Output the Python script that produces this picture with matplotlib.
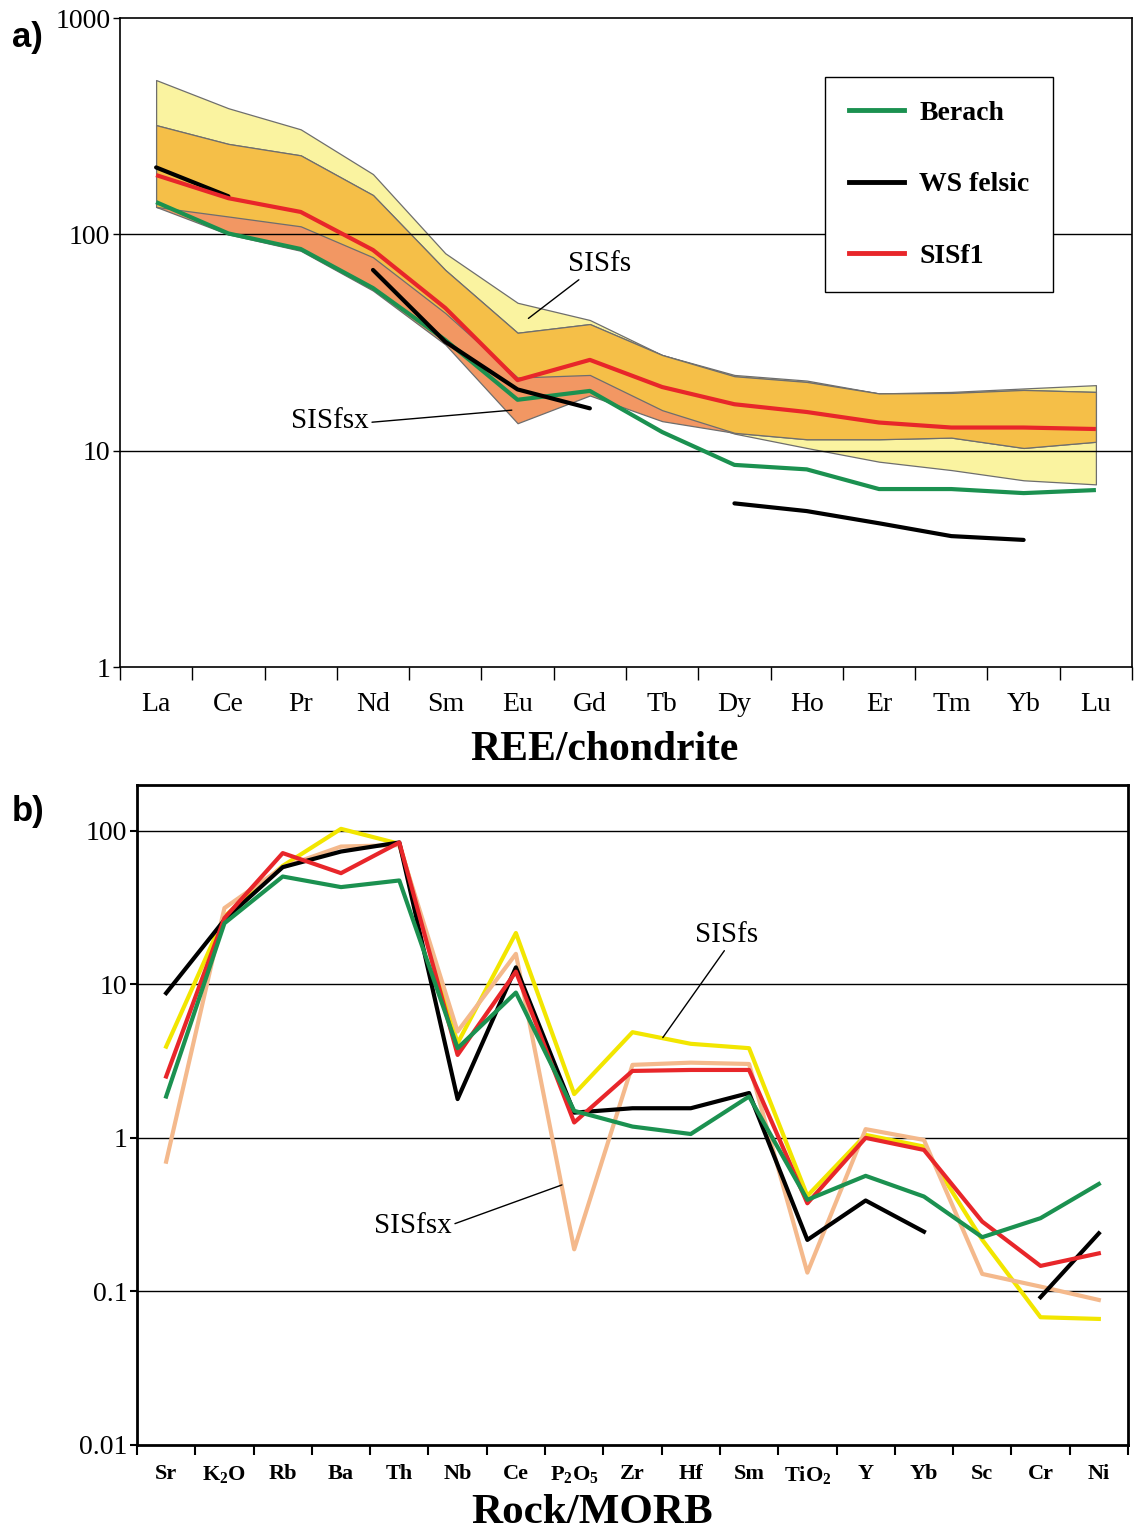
import numpy as np
import matplotlib
matplotlib.use("Agg")
import matplotlib.pyplot as plt
from matplotlib.lines import Line2D

plt.rcParams['font.family'] = ['Liberation Serif', 'DejaVu Serif']
plt.rcParams['mathtext.fontset'] = 'custom'
plt.rcParams['mathtext.rm'] = 'Liberation Serif:bold'
plt.rcParams['mathtext.bf'] = 'Liberation Serif:bold'
plt.rcParams['mathtext.it'] = 'Liberation Serif:bold'

# ---------------- (a) REE / chondrite ----------------
ree = ['La', 'Ce', 'Pr', 'Nd', 'Sm', 'Eu', 'Gd', 'Tb', 'Dy', 'Ho', 'Er', 'Tm', 'Yb', 'Lu']

ree_berach = [141, 101, 85.6, 56.5, 32.5, 17.2, 18.9, 12.2, 8.6, 8.2, 6.65, 6.65, 6.37, 6.58]
ree_ws_felsic = [204, 150, np.nan, 68.5, 31.9, 19.2, 15.7, np.nan, 5.71, 5.26, 4.62, 4.03, 3.87, np.nan]
ree_sisf1 = [188, 147, 127, 84.7, 45.7, 21.2, 26.3, 19.7, 16.4, 15.1, 13.5, 12.8, 12.8, 12.6]

# range envelopes
sisfs_top = [517, 383, 306, 190, 81.8, 48.3, 40.2, 27.7, 22.4, 21.1, 18.4, 18.7, 19.4, 20.1]
sisfs_bottom = [134, 121, 109, 78.4, 43.3, 21.8, 22.4, 15.4, 12.0, 10.3, 8.9, 8.14, 7.3, 6.99]
sisfsx_top = [320, 262, 232, 152, 68.5, 35.1, 38.5, 27.7, 22.1, 20.8, 18.4, 18.5, 19.1, 18.7]
sisfsx_bottom = [134, 100, 84, 55, 31, 13.4, 18.0, 13.7, 12.1, 11.3, 11.3, 11.5, 10.3, 11.0]

# ---------------- (b) Rock / MORB ----------------
morb = ['Sr', r'K$_2$O', 'Rb', 'Ba', 'Th', 'Nb', 'Ce', r'P$_2$O$_5$', 'Zr', 'Hf', 'Sm',
        r'TiO$_2$', 'Y', 'Yb', 'Sc', 'Cr', 'Ni']

morb_ws_felsic = [8.77, 26.3, 58, 73.3, 84, 1.79, 12.9, 1.46, 1.56, 1.56, 1.96,
                  0.2165, 0.391, 0.245, np.nan, 0.0917, 0.239]
morb_berach = [1.86, 25, 50.4, 43, 47.5, 3.84, 8.84, 1.50, 1.185, 1.06, 1.86,
               0.395, 0.566, 0.415, 0.2255, 0.300, 0.501]
morb_sisf1 = [2.51, 27, 71.6, 53, 84, 3.47, 12.1, 1.26, 2.73, 2.77, 2.77,
              0.375, 1.0, 0.835, 0.285, 0.1466, 0.177]
morb_sisfs = [3.93, 27.7, 59.1, 103, 82.3, 4.14, 21.6, 1.93, 4.88, 4.10, 3.84,
              0.419, 1.046, 0.878, 0.217, 0.0679, 0.0662]
morb_sisfsx = [0.70, 31.4, 58, 79, 80.7, 4.93, 15.8, 0.188, 2.99, 3.09, 3.03,
               0.1326, 1.14, 0.97, 0.130, 0.1075, 0.088]

GREEN = '#1b9150'
RED = '#e8262a'
BLACK = '#000000'
YELLOW = '#f2e600'
PEACH = '#f4b98c'

FILL_YELLOW = '#faf3a0'
FILL_ORANGE = '#f5bf48'
FILL_SALMON = '#f29763'
EDGE = '#6e6e6e'

fig = plt.figure(figsize=(11.35, 15.31), dpi=100)
ax1 = fig.add_axes([0.1057, 0.5643, 0.8917, 0.4239])
ax2 = fig.add_axes([0.1207, 0.0562, 0.8731, 0.4311])

# ---- panel a ----
x1 = np.arange(len(ree))
s_top = np.array(sisfs_top); s_bot = np.array(sisfs_bottom)
x_top = np.array(sisfsx_top); x_bot = np.array(sisfsx_bottom)
ov_top = np.minimum(s_top, x_top)
ov_bot = np.maximum(s_bot, x_bot)

ax1.fill_between(x1, s_bot, s_top, facecolor=FILL_YELLOW, edgecolor=EDGE, linewidth=0.9, zorder=1)
ax1.fill_between(x1, x_bot, x_top, facecolor=FILL_SALMON, edgecolor=EDGE, linewidth=0.9, zorder=1.1)
ax1.fill_between(x1, ov_bot, ov_top, facecolor=FILL_ORANGE, edgecolor=EDGE, linewidth=0.9, zorder=1.2)

for v in [10, 100]:
    ax1.axhline(v, color='black', linewidth=1.0, zorder=2)

ax1.plot(x1, ree_berach, color=GREEN, lw=3.0, zorder=3, solid_capstyle='butt')
ax1.plot(x1, ree_ws_felsic, color=BLACK, lw=3.0, zorder=3.1, solid_capstyle='round')
ax1.plot(x1, ree_sisf1, color=RED, lw=3.0, zorder=3.2, solid_capstyle='butt')

ax1.set_yscale('log')
ax1.set_ylim(1, 1000)
ax1.set_xlim(-0.5, len(ree) - 0.5)
ax1.set_yticks([1, 10, 100, 1000])
ax1.set_yticklabels(['1', '10', '100', '1000'])
ax1.yaxis.set_minor_locator(matplotlib.ticker.NullLocator())
ax1.tick_params(axis='y', which='major', direction='out', length=5, width=1, labelsize=20, pad=2)
ax1.set_xticks(np.arange(-0.5, len(ree)), labels=[''] * (len(ree) + 1))
ax1.set_xticks(x1, labels=ree, minor=True)
ax1.tick_params(axis='x', which='major', direction='out', length=9, width=1)
ax1.tick_params(axis='x', which='minor', length=0, labelsize=20, pad=18)
for sp in ax1.spines.values():
    sp.set_linewidth(1.2)
    sp.set_zorder(4)

ax1.annotate('SISfs', xy=(5.15, 40.9), xytext=(6.14, 73.0), ha='center', va='center',
             fontsize=21, zorder=5,
             arrowprops=dict(arrowstyle='-', color='black', lw=1.0, shrinkA=0, shrinkB=0,
                             relpos=(0.25, 0.05)))
ax1.annotate('SISfsx', xy=(4.92, 15.4), xytext=(2.41, 13.7), ha='center', va='center',
             fontsize=21, zorder=5,
             arrowprops=dict(arrowstyle='-', color='black', lw=1.0, shrinkA=0, shrinkB=0,
                             relpos=(1.0, 0.45)))

handles = [Line2D([], [], color=GREEN, lw=3.5),
           Line2D([], [], color=BLACK, lw=3.5),
           Line2D([], [], color=RED, lw=3.5)]
leg = ax1.legend(handles, ['Berach', 'WS felsic', 'SISf1'], loc='upper left',
                 bbox_to_anchor=((825 - 120) / 1012, (667 - 77) / 649), borderaxespad=0,
                 prop={'family': 'Liberation Serif', 'weight': 'bold', 'size': 20},
                 frameon=True, fancybox=False, framealpha=1, edgecolor='black',
                 handlelength=2.0, handletextpad=0.55, labelspacing=1.65, borderpad=0.85)
leg.get_frame().set_linewidth(1.0)
leg.set_zorder(6)

fig.text(604 / 1135, 1 - 750 / 1531, 'REE/chondrite', ha='center', va='center',
         fontsize=30, fontweight='bold')
fig.text(12 / 1135, 1 - 38 / 1531, 'a)', ha='left', va='center', fontsize=25,
         fontweight='bold', family='Liberation Sans')

# ---- panel b ----
x2 = np.arange(len(morb))
for v in [0.1, 1, 10, 100]:
    ax2.axhline(v, color='black', linewidth=1.0, zorder=1)

ax2.plot(x2, morb_sisfs, color=YELLOW, lw=3.0, zorder=2)
ax2.plot(x2, morb_sisfsx, color=PEACH, lw=3.0, zorder=2.1)
ax2.plot(x2, morb_ws_felsic, color=BLACK, lw=3.0, zorder=2.2)
ax2.plot(x2, morb_sisf1, color=RED, lw=3.0, zorder=2.3)
ax2.plot(x2, morb_berach, color=GREEN, lw=3.0, zorder=2.4)

ax2.set_yscale('log')
ax2.set_ylim(0.01, 199)
ax2.set_xlim(-0.5, len(morb) - 0.5)
ax2.set_yticks([0.01, 0.1, 1, 10, 100])
ax2.set_yticklabels(['0.01', '0.1', '1', '10', '100'])
ax2.yaxis.set_minor_locator(matplotlib.ticker.NullLocator())
ax2.tick_params(axis='y', which='major', direction='out', length=5, width=1.5, labelsize=20, pad=2)
ax2.set_xticks(np.arange(-0.5, len(morb)), labels=[''] * (len(morb) + 1))
ax2.set_xticks(x2, labels=morb, minor=True)
ax2.tick_params(axis='x', which='major', direction='out', length=7, width=1.5)
ax2.tick_params(axis='x', which='minor', length=0, labelsize=16, pad=14)
for lab in ax2.get_xticklabels(minor=True):
    lab.set_fontweight('bold')
for sp in ax2.spines.values():
    sp.set_linewidth(2.0)
    sp.set_zorder(4)

ax2.annotate('SISfs', xy=(8.52, 4.50), xytext=(9.61, 21.0), ha='center', va='center',
             fontsize=21, zorder=5,
             arrowprops=dict(arrowstyle='-', color='black', lw=1.0, shrinkA=0, shrinkB=0,
                             relpos=(0.5, 0.0)))
ax2.annotate('SISfsx', xy=(6.79, 0.494), xytext=(4.24, 0.267), ha='center', va='center',
             fontsize=21, zorder=5,
             arrowprops=dict(arrowstyle='-', color='black', lw=1.0, shrinkA=0, shrinkB=0,
                             relpos=(1.0, 0.55)))

fig.text(592 / 1135, 1 - 1513 / 1531, 'Rock/MORB', ha='center', va='center',
         fontsize=31, fontweight='bold')
fig.text(12 / 1135, 1 - 812 / 1531, 'b)', ha='left', va='center', fontsize=25,
         fontweight='bold', family='Liberation Sans')

fig.savefig('out.png', dpi=100, facecolor='white')
